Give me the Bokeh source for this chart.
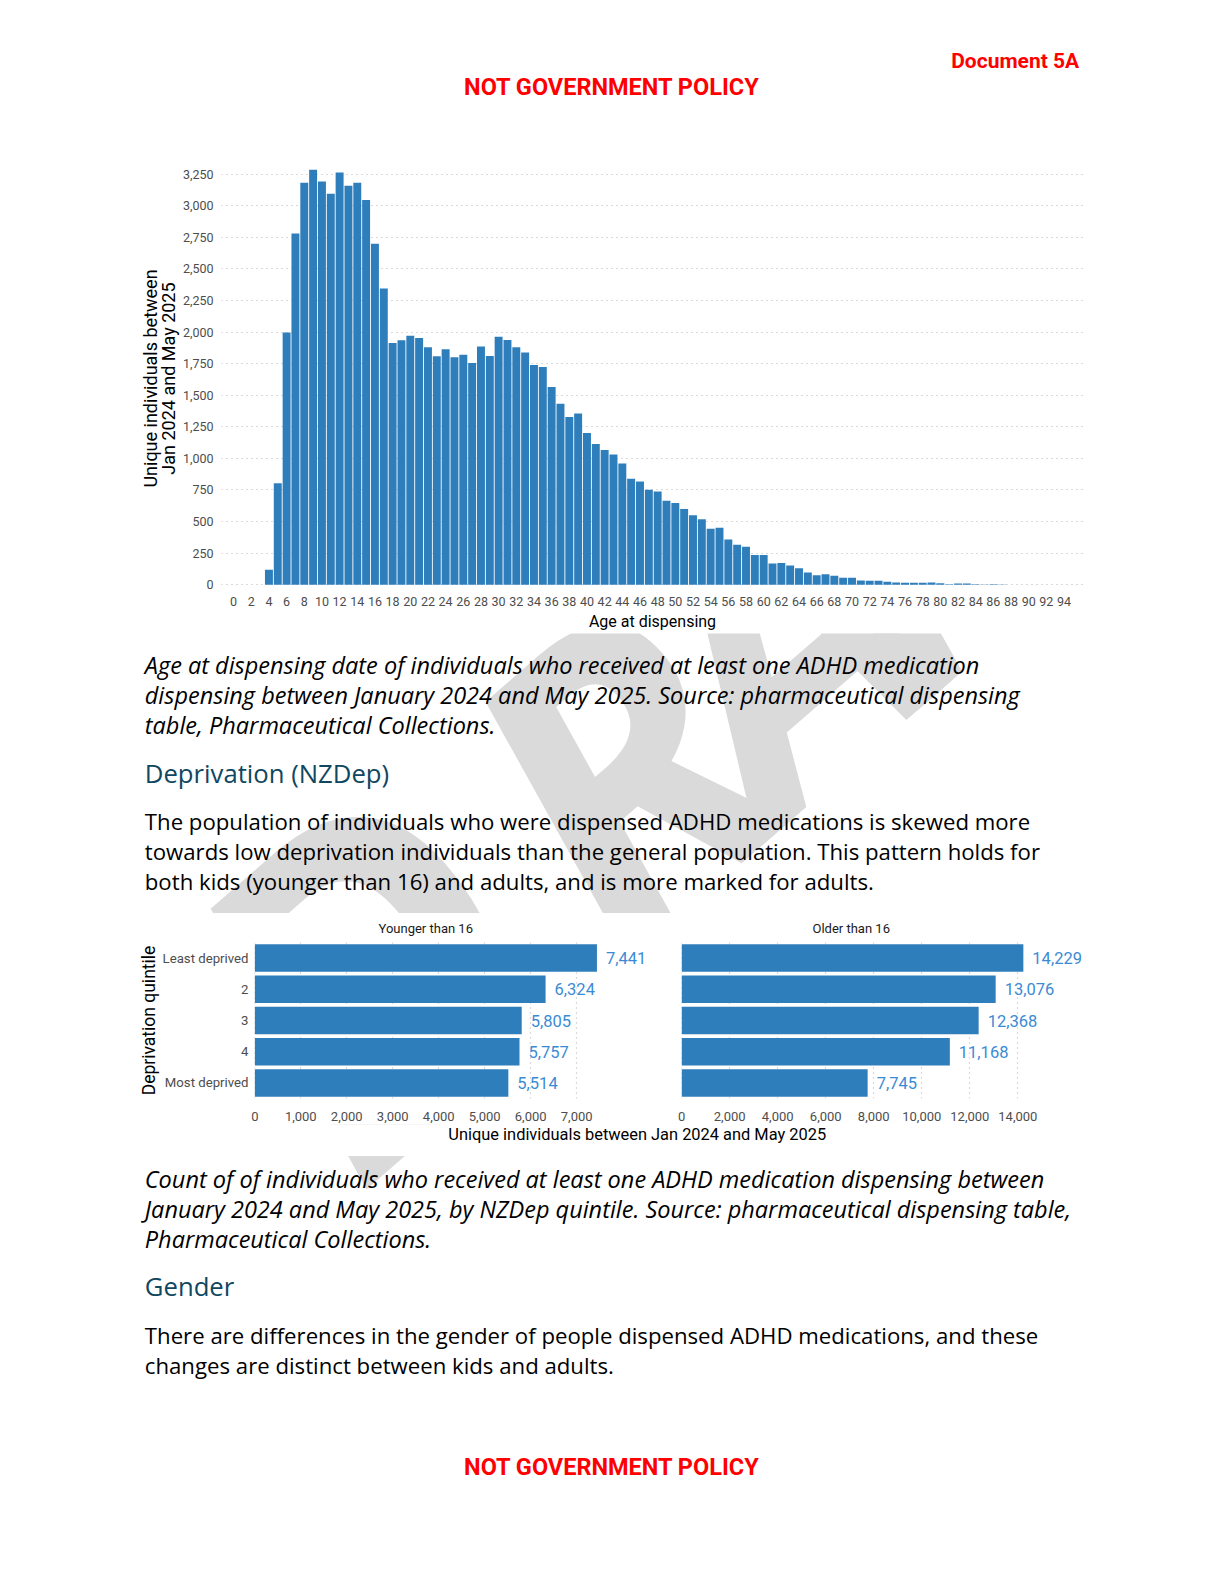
import math
from bokeh.plotting import figure
from bokeh.layouts import column, row
from bokeh.models import Range1d, FactorRange, FixedTicker, NumeralTickFormatter, ColumnDataSource, LabelSet
from bokeh.core.properties import value
from bokeh.embed import file_html
from bokeh.resources import INLINE

# ---------------- data ----------------
ages = list(range(0, 95))
counts = [
    0, 0, 0, 0, 118, 804, 1997, 2780, 3181, 3283,          # 0-9
    3191, 3094, 3262, 3157, 3181, 3044, 2699, 2345, 1913, 1934,  # 10-19
    1970, 1952, 1879, 1808, 1863, 1800, 1821, 1755, 1886, 1810,  # 20-29
    1962, 1936, 1879, 1837, 1740, 1724, 1564, 1433, 1328, 1355,  # 30-39
    1200, 1114, 1066, 1030, 959, 838, 817, 752, 739, 665,        # 40-49
    647, 600, 550, 519, 443, 451, 359, 317, 301, 236,            # 50-59
    236, 168, 173, 152, 131, 97, 76, 84, 71, 55,                 # 60-69
    55, 34, 31, 31, 24, 18, 16, 16, 16, 18,                      # 70-79
    13, 5, 10, 10, 5, 2, 5, 2, 1, 1,                             # 80-89
    1, 0, 0, 0, 0,                                               # 90-94
]
age_ticks = list(range(0, 95, 2))
count_ticks = list(range(0, 3251, 250))

quintiles = ["Least deprived", "2", "3", "4", "Most deprived"]
younger = [7441, 6324, 5805, 5757, 5514]
older = [14229, 13076, 12368, 11168, 7745]
younger_ticks = list(range(0, 7001, 1000))
older_ticks = list(range(0, 14001, 2000))

caption1 = ["Age at dispensing date of individuals who received at least one ADHD medication",
            "dispensing between January 2024 and May 2025. Source: pharmaceutical dispensing",
            "table, Pharmaceutical Collections."]
para1 = ["The population of individuals who were dispensed ADHD medications is skewed more",
         "towards low deprivation individuals than the general population. This pattern holds for",
         "both kids (younger than 16) and adults, and is more marked for adults."]
caption2 = ["Count of of individuals who received at least one ADHD medication dispensing between",
            "January 2024 and May 2025, by NZDep quintile. Source: pharmaceutical dispensing table,",
            "Pharmaceutical Collections."]
para2 = ["There are differences in the gender of people dispensed ADHD medications, and these",
         "changes are distinct between kids and adults."]
wm_letters = ["D", "R", "A", "F", "T"]

BAR = "#2f7ebc"
LBL = "#3b8bd4"
GRID = "#b5b5b5"
TICK = "#4d4d4d"
CFONT = "Roboto"
BFONT = "Open Sans"
RED = "#ff0000"
HEAD = "#0f4761"
WM = "#dadada"

# ---------------- layout geometry ----------------
S = 0.991                 # screen px per layout px
W = 1208
H_TOP, H_HIST, H_MID, H_BARS, H_BOT = 151, 482, 280, 211, 369
T_TOP = 0
T_HIST = T_TOP + H_TOP
T_MID = T_HIST + H_HIST
T_BARS = T_MID + H_MID
T_BOT = T_BARS + H_BARS

# watermark placement (letter offsets along the rotated baseline, letter sizes)
WM_TH = math.radians(41)
WM_OFF = [10, 356, 560, 733, 956]
WM_SIZES = [440, 406, 406, 406, 406]


def page_fig(top, h):
    f = figure(width=W, height=h, x_range=Range1d(0, W * S), y_range=Range1d(-(top + h) * S, -top * S),
               output_backend="svg", toolbar_location=None, title=None,
               min_border_left=0, min_border_right=0, min_border_top=0, min_border_bottom=0,
               x_axis_location=None, y_axis_location=None)
    f.grid.visible = False
    f.outline_line_color = None
    return f


def put(f, x, y, s, size, color="black", align="left", style="normal", font=BFONT):
    f.text(x=[x], y=[-y], text=[s], text_font=value(font), text_font_size=size, text_color=color,
           text_align=align, text_baseline="middle", text_font_style=style)


def watermark(f):
    for ch, u0, sz in zip(wm_letters, WM_OFF, WM_SIZES):
        up = 0.378 * sz
        x = 345 + u0 * math.cos(WM_TH) - up * math.sin(WM_TH)
        y = 1190 - u0 * math.sin(WM_TH) - up * math.cos(WM_TH)
        f.text(x=[x], y=[-y], text=[ch], angle=WM_TH, text_font=value("Open Sans"),
               text_font_size=f"{sz}px", text_font_style="bold italic", text_color=WM,
               text_align="left", text_baseline="alphabetic")


def style_axis(ax, tick_size, label_size):
    ax.axis_line_color = None
    ax.major_tick_line_color = None
    ax.minor_tick_line_color = None
    ax.major_tick_out = 0
    ax.major_tick_in = 0
    ax.minor_tick_out = 0
    ax.minor_tick_in = 0
    ax.major_label_text_font = CFONT
    ax.major_label_text_font_size = tick_size
    ax.major_label_text_color = TICK
    ax.axis_label_text_font = CFONT
    ax.axis_label_text_font_size = label_size
    ax.axis_label_text_font_style = "normal"
    ax.axis_label_text_color = "black"


# ---------------- header ----------------
top = page_fig(T_TOP, H_TOP)
put(top, 1069, 60, "Document 5A", "21px", RED, "right", "bold", "Roboto")
put(top, 606, 86, "NOT GOVERNMENT POLICY", "23.5px", RED, "center", "bold", "Roboto")

# ---------------- histogram ----------------
HL, HR, HT, HB = 221, 125, 17, 44
fl, fr = HL * S, (W - HR) * S
ft, fb = (T_HIST + HT) * S, (T_HIST + H_HIST - HB) * S
p1 = figure(width=W, height=H_HIST,
            x_range=Range1d((fl - 231) / 8.755, (fr - 231) / 8.755),
            y_range=Range1d((580 - fb) / 0.12554, (580 - ft) / 0.12554),
            output_backend="svg", toolbar_location=None, title=None,
            min_border_left=HL, min_border_right=HR, min_border_top=HT, min_border_bottom=HB)
p1.outline_line_color = None
p1.xgrid.grid_line_color = None
p1.ygrid.grid_line_color = GRID
p1.ygrid.grid_line_dash = "1 4"
p1.ygrid.grid_line_width = 1.2
p1.vbar(x=ages, top=counts, width=0.9, fill_color=BAR, line_color=None)
p1.xaxis.ticker = FixedTicker(ticks=age_ticks)
p1.yaxis.ticker = FixedTicker(ticks=count_ticks)
p1.yaxis.formatter = NumeralTickFormatter(format="0,0")
style_axis(p1.xaxis[0], "12.5px", "16px")
style_axis(p1.yaxis[0], "12.5px", "18px")
p1.yaxis.axis_label_text_line_height = 0.85
p1.xaxis.major_label_standoff = 8
p1.xaxis.axis_label_standoff = 3
p1.yaxis.major_label_standoff = 8
p1.yaxis.axis_label_standoff = 1
p1.xaxis.axis_label = "Age at dispensing"
p1.yaxis.axis_label = "Unique individuals between\nJan 2024 and May 2025"

# ---------------- middle text ----------------
mid = page_fig(T_MID, H_MID)
watermark(mid)
for i, s in enumerate(caption1):
    put(mid, 143, 659 + i * 29.5, s, "23.5px", "black", "left", "italic")
put(mid, 143, 766, "Deprivation (NZDep)", "25.7px", HEAD)
for i, s in enumerate(para1):
    put(mid, 143, 814 + i * 29.3, s, "22.2px")


# ---------------- deprivation bars ----------------
def bar_fig(vals, ticks, title, width, left_off, BL, BR, zero_px, px_per_unit, with_y, title_shift):
    BT, BB = 29, 26
    f_left = (left_off + BL) * S
    f_right = (left_off + width - BR) * S
    f = figure(width=width, height=H_BARS, y_range=FactorRange(factors=quintiles[::-1]),
               x_range=Range1d((f_left - zero_px) / px_per_unit, (f_right - zero_px) / px_per_unit),
               title=title, output_backend="svg", toolbar_location=None,
               y_axis_location="left" if with_y else None,
               min_border_left=BL, min_border_right=BR, min_border_top=BT, min_border_bottom=BB)
    f.outline_line_color = None
    f.ygrid.grid_line_color = None
    f.xgrid.grid_line_color = GRID
    f.xgrid.grid_line_dash = "1 4"
    f.xgrid.grid_line_width = 1.2
    f.hbar(y=quintiles, right=vals, height=0.88, fill_color=BAR, line_color=None)
    src = ColumnDataSource(dict(x=vals, y=quintiles, t=[f"{v:,}" for v in vals]))
    f.add_layout(LabelSet(x="x", y="y", text="t", source=src, x_offset=9, text_baseline="middle",
                          text_font=value(CFONT), text_font_size="16.5px", text_color=LBL))
    f.xaxis.ticker = FixedTicker(ticks=ticks)
    f.xaxis.formatter = NumeralTickFormatter(format="0,0")
    for ax in f.xaxis + f.yaxis:
        style_axis(ax, "13px", "17.5px")
    f.xaxis.major_label_standoff = 13
    f.title.align = "left"
    f.title.offset = title_shift
    f.title.vertical_align = "top"
    f.title.text_font = CFONT
    f.title.text_font_size = "13px"
    f.title.text_font_style = "normal"
    f.title.text_color = "#1a1a1a"
    return f


pl = bar_fig(younger, younger_ticks, "Younger than 16", 660, 0, 254, 9, 252, 0.04557, True, 124)
pl.yaxis.axis_label = "Deprivation quintile"
pl.yaxis.major_label_standoff = 6
pl.yaxis.axis_label_standoff = 1
pl.yaxis.major_label_text_font_size = "13.2px"
pr = bar_fig(older, older_ticks, "Older than 16", 548, 660, 21, 98, 675, 0.0238, False, 131)

# ---------------- bottom text ----------------
bot = page_fig(T_BOT, H_BOT)
watermark(bot)
bot.quad(left=[0], right=[W], top=[-T_BOT * S + 1], bottom=[-1145], fill_color="white", line_color=None)
put(bot, 633, 1124, "Unique individuals  between Jan 2024 and May 2025", "16.4px", "black", "center", "normal", CFONT)
for i, s in enumerate(caption2):
    put(bot, 143, 1168 + i * 29.5, s, "23.5px", "black", "left", "italic")
put(bot, 143, 1274, "Gender", "25.7px", HEAD)
for i, s in enumerate(para2):
    put(bot, 143, 1323 + i * 30, s, "22.2px")
put(bot, 606, 1453, "NOT GOVERNMENT POLICY", "23.5px", RED, "center", "bold", "Roboto")

page = column(row(top), row(p1), row(mid), row(pl, pr), row(bot))
open("out.html", "w").write(file_html(page, INLINE))
